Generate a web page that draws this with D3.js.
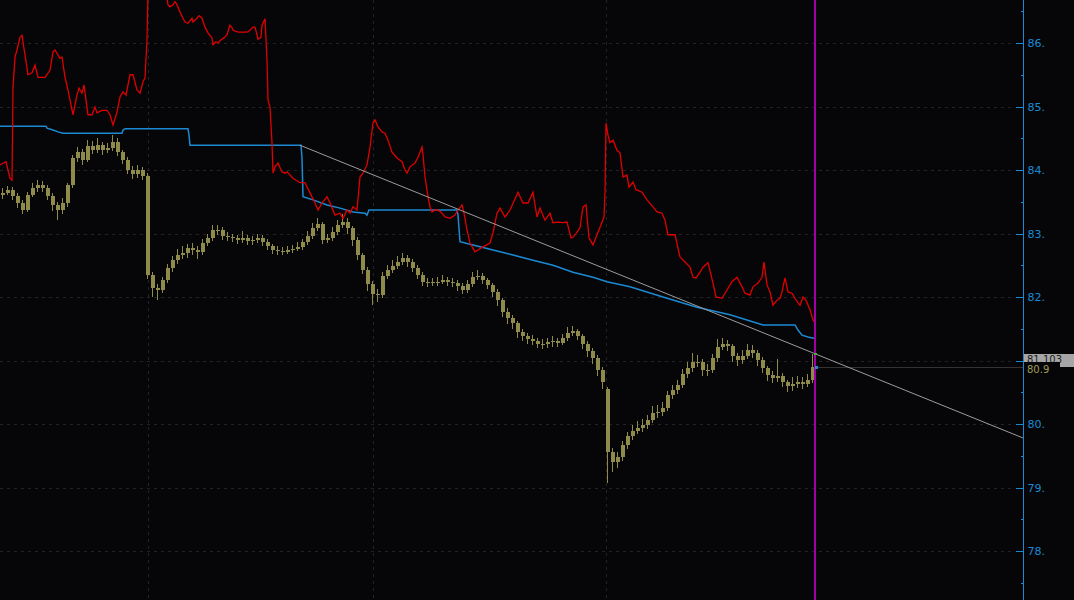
<!DOCTYPE html>
<html>
<head>
<meta charset="utf-8">
<script src="https://cdn.jsdelivr.net/npm/d3@7"></script>
<style>
html,body{margin:0;padding:0;background:#060609;}
svg{display:block;}
</style>
</head>
<body>
<svg id="chart" width="1074" height="600"></svg>
<script>
// ---------- DATA ----------
const barOpen = [
83.60,83.64,83.69,83.59,83.48,83.37,83.61,83.72,83.76,83.72,
83.59,83.45,83.37,83.48,83.76,84.19,84.28,84.16,84.38,84.31,
84.39,84.31,84.35,84.44,84.28,84.16,84.00,83.94,84.00,83.91,
82.35,82.14,82.11,82.27,82.46,82.58,82.66,82.69,82.77,82.74,
82.71,82.85,82.93,83.06,83.06,82.96,82.95,82.93,82.90,82.93,
82.88,82.90,82.93,82.87,82.80,82.74,82.72,82.71,82.74,82.76,
82.79,82.87,82.96,83.09,83.15,82.90,82.93,83.02,83.13,83.18,
83.09,82.90,82.66,82.43,82.20,82.05,82.03,82.33,82.43,82.49,
82.55,82.61,82.55,82.46,82.35,82.24,82.22,82.24,82.24,82.27,
82.24,82.22,82.17,82.11,82.20,82.32,82.33,82.27,82.19,82.08,
81.95,81.76,81.67,81.59,81.45,81.39,81.34,81.31,81.26,81.26,
81.29,81.31,81.28,81.35,81.43,81.46,81.39,81.26,81.15,81.04,
80.85,80.55,79.56,79.40,79.48,79.67,79.81,79.89,79.94,79.98,
80.06,80.17,80.19,80.25,80.46,80.54,80.61,80.79,80.88,80.98,
80.98,80.85,80.85,81.04,81.22,81.26,81.23,81.07,81.01,81.07,
81.17,81.12,81.01,80.88,80.77,80.72,80.75,80.66,80.60,80.63,
80.66,80.63,80.69];
const barHigh = [
83.72,83.75,83.73,83.63,83.52,83.66,83.80,83.84,83.82,83.76,
83.63,83.50,83.56,83.80,84.24,84.36,84.33,84.47,84.45,84.50,
84.44,84.42,84.55,84.50,84.32,84.20,84.06,84.08,84.04,83.95,
82.40,82.20,82.32,82.52,82.64,82.75,82.80,82.84,82.85,82.80,
82.92,83.00,83.14,83.13,83.10,83.02,83.00,82.98,83.04,82.98,
82.96,83.00,82.97,82.92,82.84,82.80,82.78,82.80,82.82,82.86,
82.92,83.04,83.17,83.25,83.18,83.00,83.10,83.22,83.30,83.24,
83.12,82.94,82.70,82.48,82.25,82.12,82.40,82.50,82.58,82.64,
82.70,82.66,82.60,82.50,82.40,82.30,82.30,82.32,82.34,82.32,
82.30,82.26,82.22,82.26,82.40,82.42,82.38,82.30,82.22,82.12,
81.98,81.82,81.72,81.62,81.50,81.44,81.40,81.36,81.34,81.36,
81.38,81.36,81.42,81.52,81.55,81.50,81.42,81.30,81.20,81.08,
80.90,80.58,79.62,79.56,79.74,79.88,79.98,80.04,80.08,80.14,
80.28,80.30,80.34,80.52,80.62,80.70,80.86,80.98,81.12,81.08,
81.02,80.95,81.10,81.34,81.36,81.32,81.26,81.12,81.16,81.26,
81.24,81.16,81.05,80.92,80.84,81.02,80.80,80.70,80.74,80.76,
80.74,80.78,81.10];
const barLow = [
83.55,83.60,83.52,83.40,83.30,83.34,83.57,83.66,83.65,83.52,
83.35,83.22,83.30,83.42,83.72,84.12,84.08,84.12,84.25,84.26,
84.24,84.26,84.30,84.22,84.10,83.93,83.86,83.88,83.84,82.28,
82.00,81.95,82.06,82.22,82.40,82.52,82.60,82.62,82.66,82.60,
82.66,82.80,82.88,82.98,82.90,82.88,82.86,82.84,82.85,82.82,
82.82,82.85,82.80,82.74,82.68,82.66,82.66,82.67,82.70,82.72,
82.74,82.82,82.92,83.04,82.84,82.85,82.88,82.98,83.08,83.00,
82.80,82.58,82.36,82.10,81.88,81.92,81.98,82.28,82.38,82.44,
82.50,82.48,82.40,82.28,82.18,82.16,82.17,82.18,82.20,82.18,
82.16,82.10,82.04,82.06,82.15,82.26,82.20,82.12,82.00,81.86,
81.68,81.58,81.50,81.36,81.30,81.26,81.24,81.20,81.18,81.20,
81.22,81.22,81.24,81.30,81.38,81.32,81.18,81.06,80.95,80.76,
80.55,79.07,79.25,79.30,79.42,79.60,79.75,79.84,79.88,79.92,
80.02,80.10,80.12,80.20,80.40,80.48,80.56,80.72,80.82,80.90,
80.76,80.76,80.80,80.98,81.16,81.15,80.98,80.92,80.94,81.02,
81.04,80.92,80.80,80.68,80.64,80.66,80.58,80.50,80.52,80.56,
80.55,80.58,80.64];
const barClose = [
83.64,83.69,83.59,83.48,83.37,83.61,83.72,83.76,83.72,83.59,
83.45,83.37,83.48,83.76,84.19,84.28,84.16,84.38,84.31,84.39,
84.31,84.35,84.44,84.28,84.16,84.00,83.94,84.00,83.91,82.35,
82.14,82.11,82.27,82.46,82.58,82.66,82.69,82.77,82.74,82.71,
82.85,82.93,83.06,83.06,82.96,82.95,82.93,82.90,82.93,82.88,
82.90,82.93,82.87,82.80,82.74,82.72,82.71,82.74,82.76,82.79,
82.87,82.96,83.09,83.15,82.90,82.93,83.02,83.13,83.18,83.09,
82.90,82.66,82.43,82.20,82.05,82.03,82.33,82.43,82.49,82.55,
82.61,82.55,82.46,82.35,82.24,82.22,82.24,82.24,82.27,82.24,
82.22,82.17,82.11,82.20,82.32,82.33,82.27,82.19,82.08,81.95,
81.76,81.67,81.59,81.45,81.39,81.34,81.31,81.26,81.26,81.29,
81.31,81.28,81.35,81.43,81.46,81.39,81.26,81.15,81.04,80.85,
80.66,79.56,79.40,79.48,79.67,79.81,79.89,79.94,79.98,80.06,
80.17,80.19,80.25,80.46,80.54,80.61,80.79,80.88,80.98,80.98,
80.85,80.85,81.04,81.22,81.26,81.23,81.07,81.01,81.07,81.17,
81.12,81.01,80.88,80.77,80.72,80.75,80.66,80.60,80.63,80.66,
80.63,80.69,80.90];

// red indicator line (time in bar units, value in price)
const redTime = [-0.4,0.8,1.2,1.6,2.0,2.2,2.6,3.0,3.6,4.0,4.2,5.2,6.0,6.6,7.2,8.6,9.6,10.2,10.6,11.6,12.0,12.6,13.2,14.2,15.0,15.4,16.0,16.4,17.2,18.0,18.6,19.0,20.0,21.0,21.6,22.2,23.0,23.6,24.2,24.8,25.6,26.2,27.0,27.6,28.2,28.6,29.0,29.2,30.0,31.6,32.8,33.2,33.6,34.2,34.6,35.0,35.6,36.2,36.6,37.2,38.0,38.2,39.0,39.4,40.0,40.6,41.2,42.0,42.2,42.8,43.2,43.8,44.4,45.0,45.6,46.0,46.2,47.2,49.0,49.6,50.2,50.6,51.0,51.2,51.8,52.0,52.6,52.8,53.0,53.2,53.6,54.0,54.2,54.6,55.2,56.0,56.6,57.0,58.2,59.6,60.6,61.6,62.6,63.2,64.0,65.0,65.6,66.6,67.6,68.2,69.0,69.6,70.2,71.0,71.6,72.2,73.0,73.6,74.2,74.6,75.2,76.0,76.6,77.2,78.0,79.0,80.0,80.6,81.0,81.6,82.6,83.2,84.0,84.2,84.6,85.2,85.6,86.0,86.6,87.2,88.0,88.6,89.6,90.6,91.2,92.0,92.4,93.0,93.6,94.6,95.2,96.2,97.6,98.2,99.0,99.6,100.6,101.6,103.2,104.2,105.2,106.2,107.0,107.6,108.6,109.6,110.2,111.2,112.2,113.0,113.8,114.2,115.0,115.6,116.2,116.8,117.4,118.2,119.0,119.6,120.4,120.6,120.8,121.2,121.6,122.2,123.0,123.6,124.2,125.0,125.4,126.2,126.8,128.0,129.0,130.2,131.0,132.0,132.6,133.2,134.6,135.6,136.6,137.6,138.2,138.8,139.6,140.2,141.2,142.2,142.8,144.0,145.0,146.0,147.0,148.0,148.6,149.6,150.2,151.2,152.0,152.4,153.0,153.6,154.2,155.0,155.6,156.0,156.6,157.2,158.0,158.6,159.6,160.2,160.8,161.6,162.2,162.4];
const redValue = [84.08,84.13,84.00,83.87,83.84,85.29,85.78,85.89,86.09,86.12,86.02,85.50,85.53,85.65,85.46,85.46,85.57,85.86,85.89,85.76,85.78,85.46,85.26,84.87,85.18,85.29,85.21,85.34,84.87,84.87,84.99,84.90,84.94,84.94,84.87,84.71,84.91,85.15,85.23,85.18,85.50,85.50,85.26,85.21,85.39,85.45,86.05,86.83,87.31,87.31,86.83,86.60,86.57,86.60,86.65,86.60,86.49,86.39,86.33,86.31,86.39,86.33,86.39,86.43,86.39,86.25,86.16,86.08,85.97,86.02,86.00,86.05,86.08,86.13,86.28,86.24,86.20,86.17,86.17,86.20,86.25,86.25,86.13,86.06,86.09,86.28,86.38,86.05,85.73,85.10,84.99,84.43,83.95,84.05,84.11,83.97,83.95,83.97,83.87,83.80,83.80,83.64,83.48,83.37,83.48,83.58,83.48,83.29,83.32,83.24,83.37,83.32,83.42,83.37,83.89,83.95,84.08,84.36,84.74,84.79,84.68,84.60,84.58,84.47,84.28,84.19,84.13,84.00,83.95,84.05,84.11,84.20,84.36,84.24,83.89,83.58,83.42,83.34,83.37,83.37,83.32,83.26,83.24,83.29,83.37,83.45,83.32,83.06,82.85,82.71,82.74,82.79,82.85,83.01,83.32,83.40,83.26,83.37,83.65,83.48,83.48,83.65,83.26,83.40,83.21,83.32,83.17,83.18,83.17,83.18,82.93,82.94,83.02,83.09,83.42,83.45,82.93,82.82,82.98,83.10,83.26,83.64,84.74,84.55,84.43,84.47,84.31,84.27,83.89,83.92,83.73,83.81,83.69,83.65,83.53,83.42,83.34,83.32,83.21,82.98,82.98,82.63,82.55,82.47,82.31,82.30,82.39,82.47,82.54,82.22,82.00,81.98,82.11,82.24,82.31,82.16,82.06,82.03,82.16,82.22,82.31,82.55,82.19,82.08,81.87,81.95,81.98,82.08,82.30,82.08,82.06,81.98,81.87,82.00,81.95,81.80,81.64,81.61];

// blue stepped line
const blueTime = [-0.4,8.8,9.0,10.2,11.2,12.2,24.0,24.2,24.6,37.2,37.4,37.6,59.8,60.0,60.2,62.2,65.0,67.6,70.2,72.6,73.0,73.4,91.0,91.2,91.6,94.2,98.2,102.2,106.2,110.2,114.2,118.2,121.0,125.6,132.2,139.0,145.6,152.2,158.6,159.2,160.0,161.2,162.4];
const blueValue = [84.69,84.69,84.66,84.63,84.60,84.58,84.58,84.63,84.65,84.65,84.55,84.39,84.39,84.19,83.58,83.53,83.45,83.40,83.34,83.32,83.29,83.37,83.37,83.29,82.87,82.82,82.74,82.66,82.58,82.50,82.39,82.31,82.24,82.16,82.00,81.84,81.72,81.56,81.56,81.48,81.40,81.37,81.35];

// trend line (time, price)
const trendTime = [59.6, 204.2];
const trendValue = [84.39, 79.78];

const sessionBreaks = [29.2, 74.2, 120.8];
const cursorTime = 162.6;
const priceTicks = [78, 79, 80, 81, 82, 83, 84, 85, 86];
const hiddenTickLabels = [81]; // covered by the value tags in the reference
const minorTicks = [77.5, 78.5, 79.5, 80.5, 81.5, 82.5, 83.5, 84.5, 85.5, 86.5];
const lastPriceLabel = "80.9";
const lastPriceValue = 80.9;
const trendLabel = "81.103";
const trendLabelValue = 81.103;

// ---------- DRAW ----------
const W = 1074, H = 600, axisX = 1023;
const svg = d3.select("#chart");
const x = d3.scaleLinear().domain([-0.4, 204.2]).range([0, axisX]);
const y = d3.scaleLinear().domain([78, 86]).range([551, 43]);

const olive = "#8e8b4b", blue = "#1b8ad3", red = "#e00000";

svg.append("rect").attr("width", W).attr("height", H).attr("fill", "#060609");

svg.append("defs").append("clipPath").attr("id", "plot")
  .append("rect").attr("x", 0).attr("y", 0).attr("width", axisX).attr("height", H);

// grid
const grid = svg.append("g").attr("stroke", "#232326").attr("stroke-dasharray", "3,4").attr("shape-rendering", "crispEdges");
grid.selectAll("line.h").data(priceTicks).join("line").attr("class", "h")
  .attr("x1", 0).attr("x2", axisX - 8)
  .attr("y1", d => Math.round(y(d)) + 0.5).attr("y2", d => Math.round(y(d)) + 0.5);
grid.selectAll("line.v").data(sessionBreaks).join("line").attr("class", "v")
  .attr("x1", d => Math.round(x(d)) + 0.5).attr("x2", d => Math.round(x(d)) + 0.5)
  .attr("y1", 0).attr("y2", H);

const plot = svg.append("g").attr("clip-path", "url(#plot)");

// last price line
plot.append("line")
  .attr("x1", x(cursorTime)).attr("x2", axisX)
  .attr("y1", Math.round(y(lastPriceValue)) + 0.5).attr("y2", Math.round(y(lastPriceValue)) + 0.5)
  .attr("stroke", "#333336").attr("stroke-width", 1);

// bars
const idx = d3.range(barClose.length);
const bars = plot.append("g").attr("shape-rendering", "crispEdges");
bars.selectAll("line").data(idx).join("line")
  .attr("x1", i => Math.round(x(i)) + 0.5).attr("x2", i => Math.round(x(i)) + 0.5)
  .attr("y1", i => y(barHigh[i])).attr("y2", i => y(barLow[i]))
  .attr("stroke", olive).attr("stroke-width", 1);
bars.selectAll("rect").data(idx).join("rect")
  .attr("x", i => Math.round(x(i)) - 1)
  .attr("width", 4)
  .attr("y", i => y(Math.max(barOpen[i], barClose[i])))
  .attr("height", i => Math.max(1, Math.abs(y(barOpen[i]) - y(barClose[i]))))
  .attr("fill", olive);

// blue line
const lineGen = d3.line().x(d => x(d[0])).y(d => y(d[1]));
plot.append("path")
  .datum(blueTime.map((t, i) => [t, blueValue[i]]))
  .attr("d", lineGen).attr("fill", "none").attr("stroke", blue).attr("stroke-width", 1.5);

// red line
plot.append("path")
  .datum(redTime.map((t, i) => [t, redValue[i]]))
  .attr("d", lineGen).attr("fill", "none").attr("stroke", red).attr("stroke-width", 1.3);

// trend line
plot.append("path")
  .datum(trendTime.map((t, i) => [t, trendValue[i]]))
  .attr("d", lineGen).attr("fill", "none").attr("stroke", "#9c9c9c").attr("stroke-width", 1);

// cursor line
svg.append("line")
  .attr("x1", Math.round(x(cursorTime))).attr("x2", Math.round(x(cursorTime)))
  .attr("y1", 0).attr("y2", H)
  .attr("stroke", "#a000a6").attr("stroke-width", 2);

// small markers at cursor
svg.append("rect").attr("x", Math.round(x(cursorTime)) - 1).attr("y", Math.round(y(trendLabelValue)) - 1)
  .attr("width", 3).attr("height", 2).attr("fill", "#4fae3c");
svg.append("rect").attr("x", Math.round(x(cursorTime))).attr("y", Math.round(y(lastPriceValue)) - 1)
  .attr("width", 3).attr("height", 3).attr("fill", blue);

// axis
svg.append("line").attr("x1", axisX + 0.5).attr("x2", axisX + 0.5).attr("y1", 0).attr("y2", H)
  .attr("stroke", blue).attr("stroke-width", 1);

const axisMajor = d3.axisRight(y).tickValues(priceTicks).tickSizeInner(-8).tickSizeOuter(0)
  .tickPadding(4).tickFormat(d => hiddenTickLabels.includes(d) ? "" : d + ".");
const gA = svg.append("g").attr("transform", `translate(${axisX + 0.5},0)`).call(axisMajor);
gA.select(".domain").remove();
gA.selectAll(".tick line").attr("stroke", blue).attr("shape-rendering", "crispEdges");
gA.selectAll(".tick text").attr("fill", blue).attr("font-family", "DejaVu Sans, sans-serif").attr("font-size", 11);

const axisMinor = d3.axisRight(y).tickValues(minorTicks).tickSizeInner(-3).tickSizeOuter(0).tickFormat("");
const gM = svg.append("g").attr("transform", `translate(${axisX + 0.5},0)`).call(axisMinor);
gM.select(".domain").remove();
gM.selectAll(".tick line").attr("stroke", blue).attr("shape-rendering", "crispEdges");

// value labels (the last-price tag sits just under the trend tag, as in the reference)
const ty = Math.round(y(trendLabelValue));
svg.append("rect").attr("x", axisX + 1).attr("y", ty).attr("width", W - axisX - 1).attr("height", 13).attr("fill", "#a6a6a6");
svg.append("text").attr("x", axisX + 4).attr("y", ty + 9).text(trendLabel)
  .attr("fill", "#1c1c1c").attr("font-family", "DejaVu Sans, sans-serif").attr("font-size", 10);

const ly = Math.round(y(lastPriceValue));
svg.append("rect").attr("x", axisX + 1).attr("y", ly - 5).attr("width", 36).attr("height", 12).attr("fill", "#060609");
svg.append("text").attr("x", axisX + 4).attr("y", ly + 6).text(lastPriceLabel)
  .attr("fill", "#a09d55").attr("font-family", "DejaVu Sans, sans-serif").attr("font-size", 10);
</script>
</body>
</html>
